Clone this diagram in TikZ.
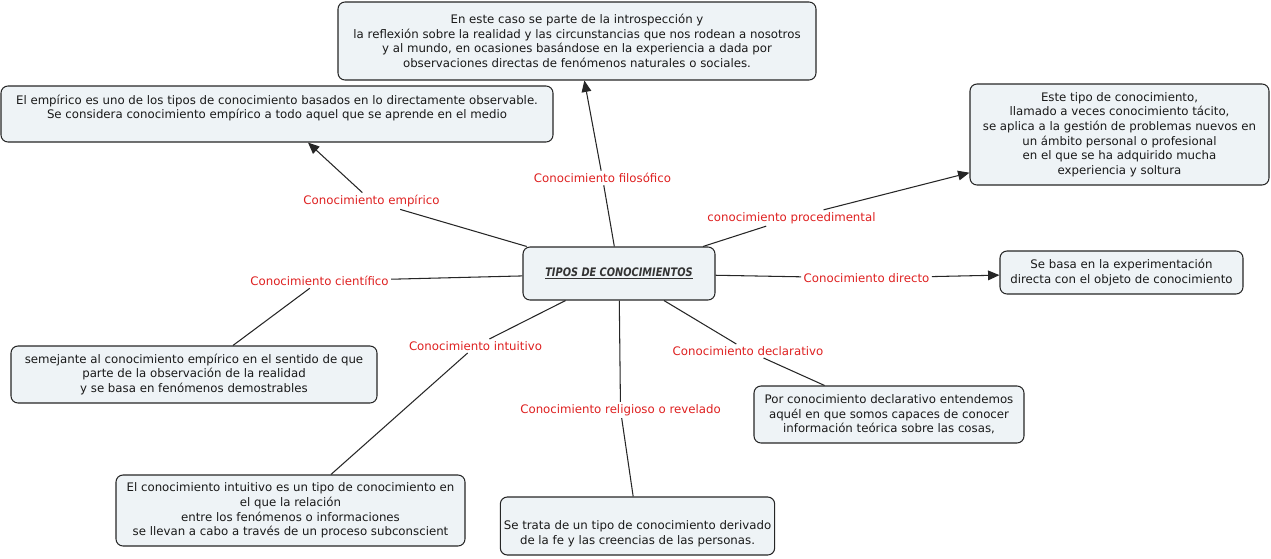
\documentclass[tikz,border=0pt]{standalone}
\usepackage{fontspec}
\setmainfont{DejaVu Sans}
\usepackage{xcolor}
\usetikzlibrary{arrows.meta}

\definecolor{boxfill}{RGB}{238,243,246}
\definecolor{phrasered}{RGB}{222,32,32}

\begin{document}
\begin{tikzpicture}[x=0.02cm, y=-0.02cm,
    concept/.style={rectangle, draw=black!85, fill=boxfill, rounded corners=4pt, line width=0.6pt, align=center, inner xsep=2pt, text=black!90, font=\fontsize{6.7}{8.3}\selectfont},
    boxsize/.style 2 args={minimum width=#1*0.02cm, minimum height=#2*0.02cm},
    phrase/.style={text=phrasered, inner sep=1.2pt, font=\fontsize{6.7}{8.3}\selectfont},
    link/.style={line width=0.6pt, draw=black!85},
    arrowlink/.style={link, -{Triangle[length=6.5pt, width=5.5pt]}}
  ]
  \useasboundingbox (0,0) rectangle (1271,558);

  % --- CENTRAL CONCEPT ---
  \node[concept, boxsize={192}{53}, text=black!80] (tipos) at (619,273.5) {\scalebox{0.83}[1]{\bfseries\itshape\underline{TIPOS DE CONOCIMIENTOS}}};

  % --- DESCRIPTIONS ---
  \node[concept, boxsize={478}{78}] (filosofico) at (577,41) {En este caso se parte de la introspección y\\ la reflexión sobre la realidad y las circunstancias que nos rodean a nosotros\\ y al mundo, en ocasiones basándose en la experiencia a dada por\\ observaciones directas de fenómenos naturales o sociales.};
  \node[concept, boxsize={552}{56}] (empirico) at (277,114) {El empírico es uno de los tipos de conocimiento basados en lo directamente observable.\\ Se considera conocimiento empírico a todo aquel que se aprende en el medio\\ \mbox{}};
  \node[concept, boxsize={299}{101}] (procedimental) at (1119.5,134.5) {Este tipo de conocimiento,\\ llamado a veces conocimiento tácito,\\ se aplica a la gestión de problemas nuevos en\\ un ámbito personal o profesional\\ en el que se ha adquirido mucha\\ experiencia y soltura};
  \node[concept, boxsize={243}{43}] (directo) at (1121.5,272.5) {Se basa en la experimentación\\ directa con el objeto de conocimiento};
  \node[concept, boxsize={366}{57}] (cientifico) at (194,374.5) {semejante al conocimiento empírico en el sentido de que\\ parte de la observación de la realidad\\ y se basa en fenómenos demostrables};
  \node[concept, boxsize={270}{57}] (declarativo) at (889,414.5) {Por conocimiento declarativo entendemos\\ aquél en que somos capaces de conocer\\ información teórica sobre las cosas,};
  \node[concept, boxsize={349}{71}] (intuitivo) at (290.5,510.5) {El conocimiento intuitivo es un tipo de conocimiento en\\ el que la relación\\ entre los fenómenos o informaciones\\ se llevan a cabo a través de un proceso subconscient};
  \node[concept, boxsize={269}{58}] (religioso) at (637.5,526) {\strut\\ Se trata de un tipo de conocimiento derivado\\ de la fe y las creencias de las personas.};

  % --- LINKING PHRASES ---
  \node[phrase] (p-empirico) at (371.5,201) {Conocimiento empírico};
  \node[phrase] (p-filosofico) at (602.5,178) {Conocimiento filosófico};
  \node[phrase] (p-procedimental) at (791.5,218) {conocimiento procedimental};
  \node[phrase] (p-directo) at (866.5,278) {Conocimiento directo};
  \node[phrase] (p-cientifico) at (319.5,281) {Conocimiento científico};
  \node[phrase] (p-intuitivo) at (475.5,346) {Conocimiento intuitivo};
  \node[phrase] (p-declarativo) at (748,351) {Conocimiento declarativo};
  \node[phrase] (p-religioso) at (620.5,410) {Conocimiento religioso o revelado};

  % --- CONNECTORS ---
  \draw[arrowlink] (tipos) -- (p-empirico) -- (empirico);
  \draw[arrowlink] (tipos) -- (p-filosofico) -- (filosofico);
  \draw[arrowlink] (tipos) -- (p-procedimental) -- (procedimental);
  \draw[arrowlink] (tipos) -- (p-directo) -- (directo);
  \draw[link] (tipos) -- (p-cientifico) -- (cientifico);
  \draw[link] (tipos) -- (p-intuitivo) -- (intuitivo);
  \draw[link] (tipos) -- (p-declarativo) -- (declarativo);
  \draw[link] (tipos) -- (p-religioso) -- (religioso);
\end{tikzpicture}
\end{document}
